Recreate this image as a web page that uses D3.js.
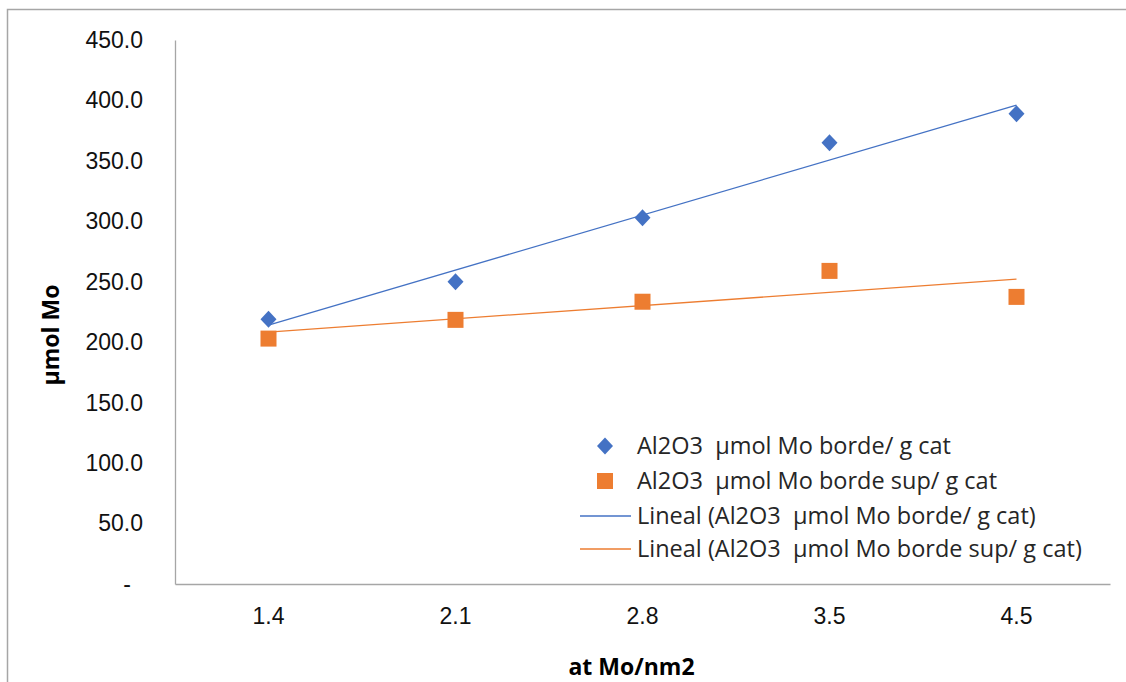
<!DOCTYPE html>
<html>
<head>
<meta charset="utf-8">
<script src="https://cdn.jsdelivr.net/npm/d3@7"></script>
<style>
  body { margin: 0; background: #fff; }
  svg { font-family: "Open Sans", "Liberation Sans", sans-serif; }
  text { white-space: pre; }
</style>
</head>
<body>
<script>
var categories = ["1.4", "2.1", "2.8", "3.5", "4.5"];
var bordeValues = [219, 250, 303, 365, 389];
var bordeSupValues = [203, 218.5, 233.5, 259, 237.5];
var yTicks = [0, 50, 100, 150, 200, 250, 300, 350, 400, 450];
var seriesNames = ["Al2O3  \u00b5mol Mo borde/ g cat", "Al2O3  \u00b5mol Mo borde sup/ g cat"];

var W = 1126, H = 682;
var margin = {top: 40, right: 16, bottom: 98, left: 175},
    width = W - margin.left - margin.right,
    height = H - margin.top - margin.bottom;

var fs = 23, legendFs = 23.5;

var svg = d3.select("body").append("svg")
    .attr("width", W)
    .attr("height", H);

// chart frame
svg.append("rect")
    .attr("x", 7.5).attr("y", 9.5)
    .attr("width", W + 10).attr("height", H + 10)
    .attr("fill", "none").attr("stroke", "#a6a6a6").attr("stroke-width", 1.5);

var g = svg.append("g")
    .attr("transform", "translate(" + margin.left + "," + margin.top + ")");

var x = d3.scaleBand().domain(categories).range([0, width]);
var y = d3.scaleLinear().domain([0, 450]).range([height, 0]);

var yAxis = d3.axisLeft(y)
    .tickValues(yTicks)
    .tickSize(0)
    .tickPadding(32)
    .tickFormat(function(d) { return d === 0 ? "-" : d3.format(".1f")(d); });

var xAxis = d3.axisBottom(x).tickSize(0).tickPadding(24);

g.append("g").attr("class", "y axis").call(yAxis)
  .call(function(s) {
    s.select(".domain").attr("stroke", "#a6a6a6").attr("stroke-width", 1.3);
    s.selectAll("text").attr("font-size", fs).attr("fill", "#111");
    s.selectAll("text").filter(function(d) { return d === 0; }).attr("dx", -12);
  });

g.append("g").attr("class", "x axis")
    .attr("transform", "translate(0," + height + ")")
    .call(xAxis)
  .call(function(s) {
    s.select(".domain").attr("stroke", "#a6a6a6").attr("stroke-width", 1.3);
    s.selectAll("text").attr("font-size", fs).attr("fill", "#111");
  });

// axis titles
svg.append("text")
    .attr("transform", "translate(51,335) rotate(-90)")
    .attr("text-anchor", "middle")
    .attr("dy", "0.35em")
    .attr("font-size", fs).attr("font-weight", "bold")
    .text("\u00b5mol Mo");

svg.append("text")
    .attr("x", margin.left + width / 2 - 11)
    .attr("y", 667)
    .attr("dy", "0.35em")
    .attr("text-anchor", "middle")
    .attr("font-size", fs).attr("font-weight", "bold")
    .text("at Mo/nm2");

var cx = function(i) { return x(categories[i]) + x.bandwidth() / 2; };

// linear trend over category index (as Excel does)
function trend(vals) {
  var n = vals.length, xs = d3.range(1, n + 1);
  var mx = d3.mean(xs), my = d3.mean(vals);
  var b = d3.sum(xs, function(xi, i) { return (xi - mx) * (vals[i] - my); }) /
          d3.sum(xs, function(xi) { return (xi - mx) * (xi - mx); });
  var a = my - b * mx;
  return [{i: 0, v: a + b * 1}, {i: n - 1, v: a + b * n}];
}

var line = d3.line()
    .x(function(d) { return cx(d.i); })
    .y(function(d) { return y(d.v); });

var blue = "#4472c4", orange = "#ed7d31";

g.append("path").datum(trend(bordeValues))
    .attr("d", line).attr("fill", "none").attr("stroke", blue).attr("stroke-width", 1.3);
g.append("path").datum(trend(bordeSupValues))
    .attr("d", line).attr("fill", "none").attr("stroke", orange).attr("stroke-width", 1.3);

var diamond = "M0,-8.5L8,0L0,8.5L-8,0Z";

g.selectAll(".dia").data(bordeValues).enter().append("path")
    .attr("class", "dia")
    .attr("d", diamond)
    .attr("transform", function(d, i) { return "translate(" + cx(i) + "," + y(d) + ")"; })
    .attr("fill", blue);

g.selectAll(".sq").data(bordeSupValues).enter().append("rect")
    .attr("class", "sq")
    .attr("x", function(d, i) { return cx(i) - 8; })
    .attr("y", function(d) { return y(d) - 8; })
    .attr("width", 16).attr("height", 16)
    .attr("fill", orange);

// legend
var legend = svg.append("g").attr("transform", "translate(580,446)");
var rowH = 35;
var items = [
  {type: "dia", color: blue, label: seriesNames[0]},
  {type: "sq", color: orange, label: seriesNames[1]},
  {type: "line", color: blue, label: "Lineal (" + seriesNames[0] + ")"},
  {type: "line", color: orange, label: "Lineal (" + seriesNames[1] + ")"}
];
items.forEach(function(it, k) {
  var row = legend.append("g").attr("transform", "translate(0," + (k * rowH - (k > 2 ? 2 : 0)) + ")");
  if (it.type === "dia") {
    row.append("path").attr("d", diamond).attr("transform", "translate(25,0)").attr("fill", it.color);
  } else if (it.type === "sq") {
    row.append("rect").attr("x", 17).attr("y", -8).attr("width", 16).attr("height", 16).attr("fill", it.color);
  } else {
    row.append("line").attr("x1", 0).attr("x2", 51).attr("y1", 0).attr("y2", 0)
        .attr("stroke", it.color).attr("stroke-width", 1.3);
  }
  row.append("text").attr("x", 57).attr("y", 0).attr("dy", "0.35em")
      .attr("font-size", legendFs).attr("fill", "#262626").text(it.label);
});
</script>
</body>
</html>
